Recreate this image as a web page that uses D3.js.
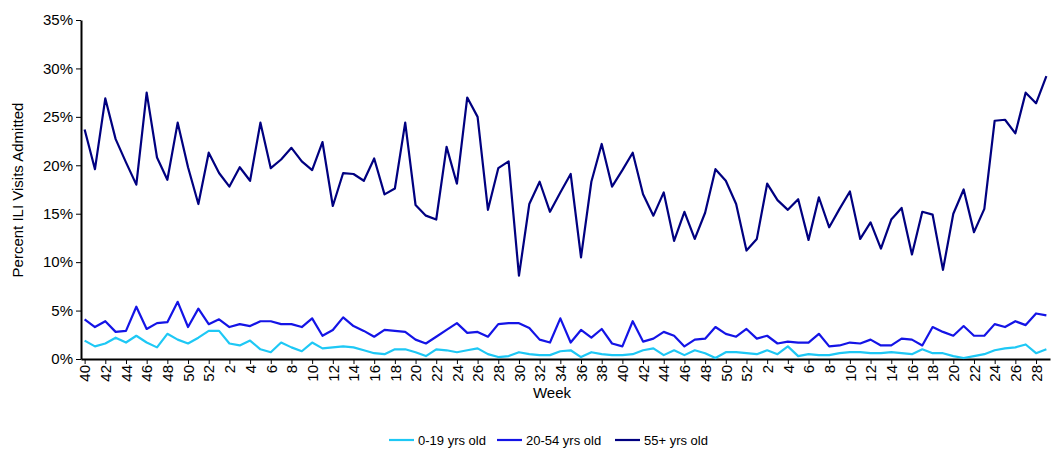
<!DOCTYPE html>
<html>
<head>
<meta charset="utf-8">
<script src="https://cdn.jsdelivr.net/npm/d3@7"></script>
<style>
  body { margin: 0; background: #fff; }
  text { font-family: "Liberation Sans", Arial, sans-serif; }
</style>
</head>
<body>
<svg id="chart" width="1060" height="455"></svg>
<script>
// week labels: 40..52, 1..52, 1..29
var weeks = [].concat(d3.range(40, 53), d3.range(1, 53), d3.range(1, 30));

var age0to19 = [1.9,1.3,1.6,2.2,1.7,2.4,1.7,1.2,2.6,2.0,1.6,2.2,2.9,
  2.9,1.6,1.4,1.9,1.0,0.7,1.7,1.2,0.8,1.7,1.1,1.2,1.3,1.2,0.9,0.6,0.5,1.0,1.0,0.7,0.3,1.0,0.9,0.7,0.9,1.1,0.5,0.2,0.3,0.7,0.5,0.4,0.4,0.8,0.9,0.2,0.7,0.5,0.4,0.4,0.5,0.9,1.1,0.4,0.9,0.4,0.9,0.6,0.1,0.7,0.7,0.6,
  0.5,0.9,0.5,1.3,0.3,0.5,0.4,0.4,0.6,0.7,0.7,0.6,0.6,0.7,0.6,0.5,1.0,0.6,0.6,0.3,0.1,0.3,0.5,0.9,1.1,1.2,1.5,0.6,1.0];

var age20to54 = [4.1,3.3,3.9,2.8,2.9,5.4,3.1,3.7,3.8,5.9,3.3,5.2,3.6,
  4.1,3.3,3.6,3.4,3.9,3.9,3.6,3.6,3.3,4.2,2.4,3.0,4.3,3.4,2.9,2.3,3.0,2.9,2.8,2.0,1.6,2.3,3.0,3.7,2.7,2.8,2.3,3.6,3.7,3.7,3.2,2.0,1.7,4.2,1.7,3.0,2.2,3.1,1.6,1.3,3.9,1.8,2.1,2.8,2.4,1.3,2.0,2.1,3.3,2.6,2.3,3.1,
  2.1,2.4,1.6,1.8,1.7,1.7,2.6,1.3,1.4,1.7,1.6,2.0,1.4,1.4,2.1,2.0,1.4,3.3,2.8,2.4,3.4,2.4,2.4,3.6,3.3,3.9,3.5,4.7,4.5];

var age55plus = [23.7,19.6,26.9,22.7,20.3,18.0,27.5,20.8,18.5,24.4,19.8,16.0,21.3,
  19.2,17.8,19.8,18.4,24.4,19.7,20.6,21.8,20.4,19.5,22.4,15.8,19.2,19.1,18.4,20.7,17.0,17.6,24.4,15.9,14.8,14.4,21.9,18.1,27.0,25.0,15.4,19.7,20.4,8.6,16.0,18.3,15.2,17.2,19.1,10.5,18.3,22.2,17.8,19.5,21.3,17.0,14.8,17.2,12.2,15.2,12.4,15.1,19.6,18.4,16.0,11.2,
  12.4,18.1,16.4,15.4,16.5,12.3,16.7,13.6,15.5,17.3,12.4,14.1,11.4,14.4,15.6,10.8,15.2,14.9,9.2,15.0,17.5,13.1,15.5,24.6,24.7,23.3,27.5,26.4,29.2];

var series = [
  { name: "0-19 yrs old", values: age0to19, color: "#1ec8f5" },
  { name: "20-54 yrs old", values: age20to54, color: "#1414e6" },
  { name: "55+ yrs old", values: age55plus, color: "#000080" }
];

var svg = d3.select("#chart");
var mLeft = 81, mRight = 1050, mTop = 20, mBottom = 359;

var x = d3.scaleLinear().domain([-0.35, weeks.length - 0.65]).range([mLeft, mRight]);
var y = d3.scaleLinear().domain([0, 35]).range([mBottom, mTop]);

// y axis
var yAxis = svg.append("g").attr("transform", `translate(${mLeft},0)`)
  .call(d3.axisLeft(y).tickValues(d3.range(0, 36, 5)).tickSize(5).tickSizeOuter(0).tickFormat(d => d + "%"));
yAxis.select(".domain").attr("stroke", "#000").attr("stroke-width", 2);
yAxis.selectAll("line").attr("stroke", "#000");
yAxis.selectAll("text").attr("font-size", 15).attr("fill", "#000");

// x axis
var xAxis = svg.append("g").attr("transform", `translate(0,${mBottom})`)
  .call(d3.axisBottom(x).tickValues(d3.range(0, weeks.length, 2)).tickSize(5).tickSizeOuter(0)
    .tickFormat(i => weeks[i]));
xAxis.select(".domain").attr("stroke", "#000").attr("stroke-width", 2);
xAxis.selectAll("line").attr("stroke", "#000");
xAxis.selectAll("text").attr("font-size", 15).attr("fill", "#000")
  .attr("text-anchor", "end").attr("dy", "0.35em")
  .attr("transform", "rotate(-90)").attr("x", -6).attr("y", 0);

var line = d3.line().x((d, i) => x(i)).y(d => y(d));
series.forEach(function(s) {
  svg.append("path").datum(s.values).attr("d", line)
    .attr("fill", "none").attr("stroke", s.color).attr("stroke-width", 2.2)
    .attr("stroke-linejoin", "round");
});

svg.append("text").attr("x", 552).attr("y", 381).attr("dy", "1.1em").attr("text-anchor", "middle")
  .attr("font-size", 15).text("Week");
svg.append("text").attr("transform", "translate(23,190) rotate(-90)")
  .attr("text-anchor", "middle").attr("font-size", 15).text("Percent ILI Visits Admitted");

// legend
var legX = [389, 497, 615];
series.forEach(function(s, i) {
  var g = svg.append("g").attr("transform", `translate(${legX[i]},440)`);
  g.append("line").attr("x1", 0).attr("x2", 25).attr("stroke", s.color).attr("stroke-width", 2.2);
  g.append("text").attr("x", 29).attr("dy", "0.35em").attr("font-size", 13).text(s.name);
});
</script>
</body>
</html>
